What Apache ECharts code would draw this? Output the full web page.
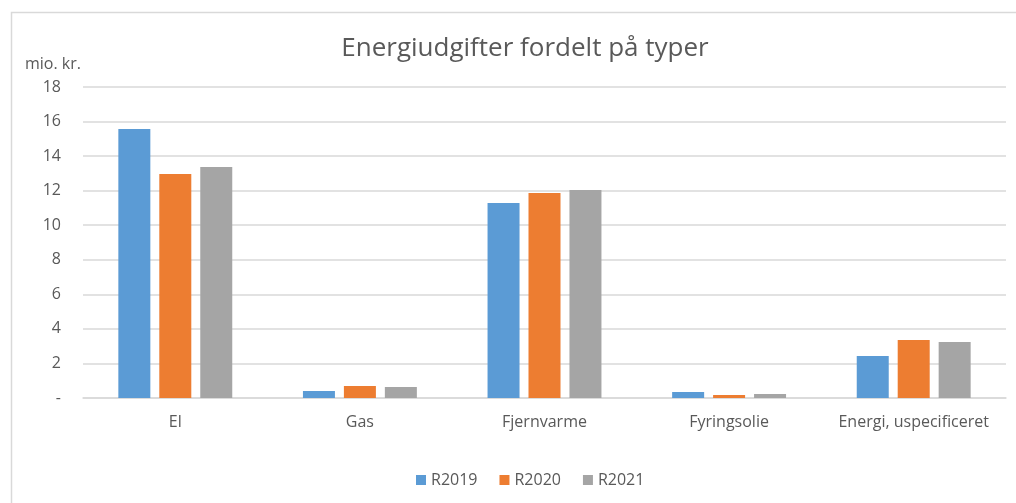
<!DOCTYPE html>
<html>
<head>
<meta charset="utf-8">
<script src="https://cdn.jsdelivr.net/npm/echarts@6/dist/echarts.min.js"></script>
<style>
  html, body { margin: 0; padding: 0; background: #fff; }
  #main { width: 1016px; height: 503px; }
</style>
</head>
<body>
<div id="main"></div>
<script>
// data
var categories = ['El', 'Gas', 'Fjernvarme', 'Fyringsolie', 'Energi, uspecificeret'];
var r2019 = [15.57, 0.40, 11.28, 0.35, 2.43];
var r2020 = [12.96, 0.69, 11.86, 0.17, 3.36];
var r2021 = [13.37, 0.64, 12.04, 0.23, 3.24];
var seriesNames = ['R2019', 'R2020', 'R2021'];
var colors = ['#5b9bd5', '#ed7d31', '#a5a5a5'];

var chart = echarts.init(document.getElementById('main'));
var font = 'Open Sans';

function bar (name, data, color) {
  return {
    name: name,
    type: 'bar',
    data: data,
    barWidth: 32,
    barGap: '28%',
    itemStyle: { color: color },
    emphasis: { disabled: true }
  };
}

var option = {
  animation: false,
  color: colors,
  graphic: [
    {
      type: 'rect',
      shape: { x: 11.5, y: 12.5, width: 1010, height: 500 },
      style: { fill: 'none', stroke: '#d9d9d9', lineWidth: 1.5 },
      silent: true
    },
    {
      // y-axis unit label
      type: 'text',
      left: 25,
      top: 56,
      style: { text: 'mio. kr.', fontFamily: font, fontSize: 16, fill: '#595959' },
      silent: true
    }
  ],
  title: {
    text: 'Energiudgifter fordelt på typer',
    left: 520,
    textAlign: 'center',
    top: 31,
    textStyle: { fontFamily: font, fontSize: 26, fontWeight: 'normal', color: '#595959' }
  },
  legend: {
    data: seriesNames,
    bottom: 10,
    left: 411,
    itemWidth: 10,
    itemHeight: 10,
    itemGap: 22,
    icon: 'rect',
    textStyle: { fontFamily: font, fontSize: 16, color: '#595959' }
  },
  grid: { left: 83, right: 10, top: 87, bottom: 105 },
  xAxis: {
    type: 'category',
    data: categories,
    axisTick: { show: false },
    axisLine: { lineStyle: { color: '#d9d9d9', width: 1.5 } },
    axisLabel: { interval: 0, fontFamily: font, fontSize: 16, color: '#595959', margin: 16 }
  },
  yAxis: {
    type: 'value',
    min: 0,
    max: 18,
    interval: 2,
    axisLine: { show: false },
    axisTick: { show: false },
    splitLine: { lineStyle: { color: '#d9d9d9', width: 1.5 } },
    axisLabel: {
      fontFamily: font,
      fontSize: 16,
      color: '#595959',
      margin: 22,
      formatter: function (v) { return v === 0 ? '-' : String(v); }
    }
  },
  series: [
    bar(seriesNames[0], r2019, colors[0]),
    bar(seriesNames[1], r2020, colors[1]),
    bar(seriesNames[2], r2021, colors[2])
  ]
};
chart.setOption(option);
</script>
</body>
</html>
